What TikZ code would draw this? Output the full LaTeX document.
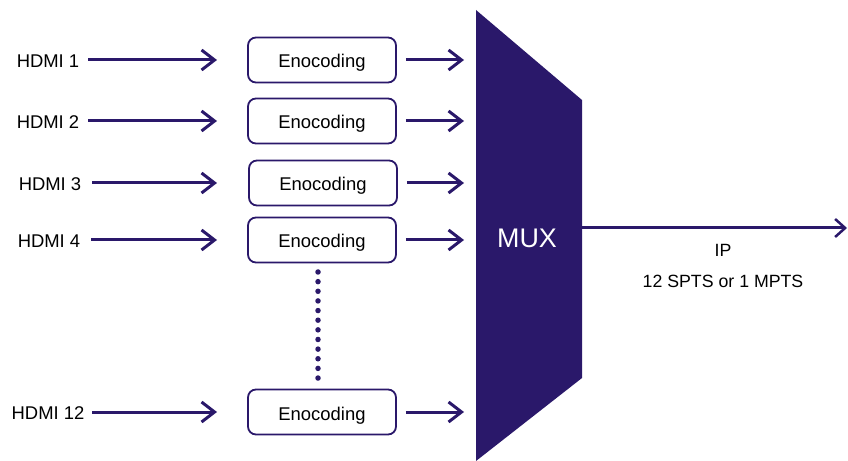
\documentclass[tikz,border=0pt]{standalone}
\usepackage{fontspec}
\setmainfont{Liberation Sans}
\usetikzlibrary{arrows.meta}
\definecolor{navy}{RGB}{42,24,106}
\tikzset{
  lbl/.style={font=\fontsize{18.5}{21}\selectfont, inner sep=0pt},
  outlbl/.style={font=\fontsize{17.8}{21}\selectfont, inner sep=0pt},
  encbox/.style={draw=navy, line width=1.8bp, rounded corners=8bp, minimum width=148bp, minimum height=45bp, font=\fontsize{18.5}{21}\selectfont, inner sep=0pt, text height=16bp, text depth=0bp},
  arr/.style={draw=navy, line width=3bp, -{Straight Barb[length=13bp,width=20bp,line width=3bp]}},
  outarr/.style={draw=navy, line width=3bp, -{Straight Barb[length=10bp,width=18bp,line width=2.5bp]}},
  dotc/.style={circle, fill=navy, inner sep=0pt, minimum size=5.5bp}
}
\begin{document}
\begin{tikzpicture}[x=1bp,y=-1bp]
\useasboundingbox (0,0) rectangle (848,461);
% MUX
\fill[navy] (476,10) -- (582,100) -- (582,378) -- (476,461) -- cycle;
\node[font=\fontsize{27}{30}\selectfont, text=white, inner sep=0pt] (mux) at (527,238) {MUX};
\coordinate (muxout) at (582,228);
\coordinate (outend) at (847,228);
\draw[outarr] (muxout) -- (outend);
\node[outlbl] (ip) at (723,250) {IP};
\node[outlbl] (spts) at (723,281) {12 SPTS or 1 MPTS};
% rows
\foreach \i/\t/\y/\lx/\ax/\bx in {1/HDMI 1/60/48/88/322, 2/HDMI 2/121/48/88/322, 3/HDMI 3/183/50/92/323, 4/HDMI 4/240/49/91/322, 12/HDMI 12/412/48/92/322}{
  \node[lbl] (h\i) at (\lx,\y+1) {\t};
  \coordinate (a\i s) at (\ax,\y);
  \coordinate (a\i e) at (217,\y);
  \draw[arr] (a\i s) -- (a\i e);
  \node[encbox] (e\i) at (\bx,\y) {Enocoding};
  \coordinate (o\i) at (464,\y);
  \path (e\i.east) ++(9,0) coordinate (b\i s);
  \draw[arr] (b\i s) -- (o\i);
}
% dots
\foreach \k in {0,...,11}{
  \node[dotc] (d\k) at (318,{272+\k*9.64}) {};
}
\end{tikzpicture}
\end{document}
